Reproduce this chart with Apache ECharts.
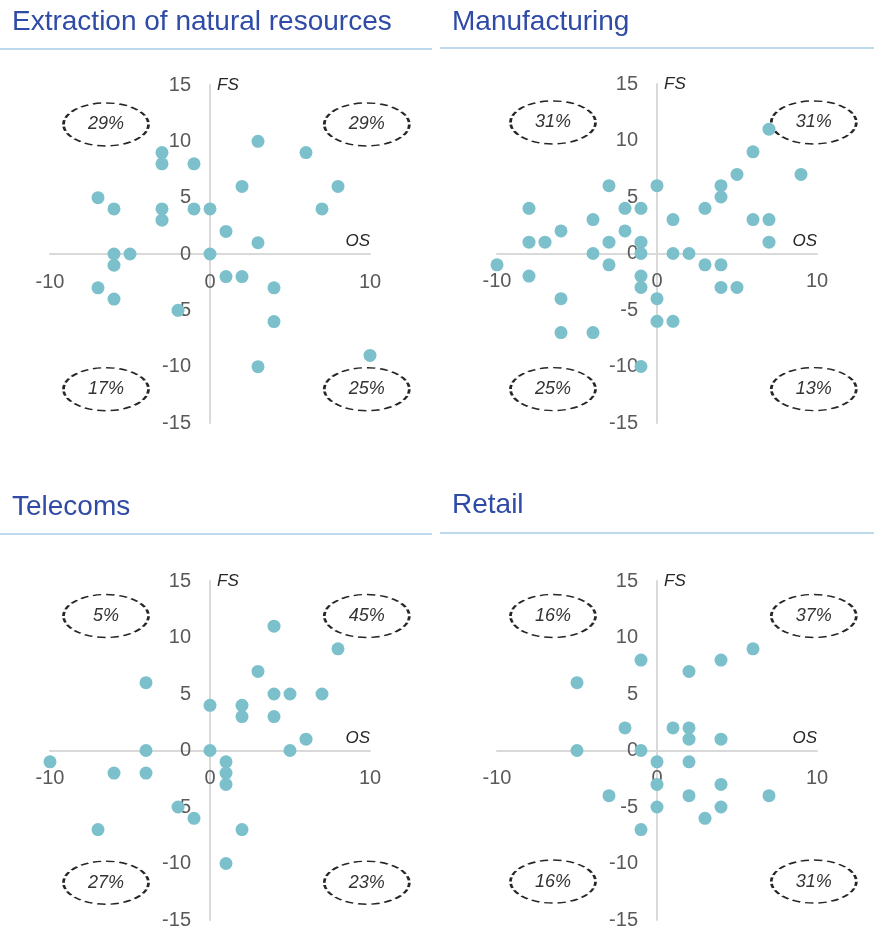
<!DOCTYPE html>
<html>
<head>
<meta charset="utf-8">
<script src="https://cdn.jsdelivr.net/npm/echarts@6/dist/echarts.min.js"></script>
<style>
  html, body { margin: 0; padding: 0; background: #fff; }
  #chart { width: 874px; height: 931px; }
</style>
</head>
<body>
<div id="chart"></div>
<script>
const titles = ['Extraction of natural resources', 'Manufacturing', 'Telecoms', 'Retail']

// axis scale (OS horizontal, FS vertical)
const xMin = -10
const xMax = 10
const xStep = 10
const yMin = -15
const yMax = 15
const yStep = 5

// dots, [OS, FS]
const extraction = [
  [-3, 9], [-3, 8], [-1, 8], [3, 10], [6, 9], [2, 6], [8, 6], [-7, 5], [-6, 4], [-3, 4],
  [-3, 3], [-1, 4], [0, 4], [7, 4], [1, 2], [3, 1], [-6, 0], [-5, 0], [0, 0], [-6, -1],
  [1, -2], [2, -2], [-7, -3], [4, -3], [-6, -4], [-2, -5], [4, -6], [3, -10], [10, -9]
]
const manufacturing = [
  [7, 11], [6, 9], [5, 7], [9, 7], [4, 6], [4, 5], [3, 4], [6, 3], [7, 3], [7, 1],
  [-3, 6], [0, 6], [-8, 4], [-2, 4], [-1, 4], [-4, 3], [1, 3], [-6, 2], [-2, 2], [-8, 1],
  [-7, 1], [-3, 1], [-1, 1], [-4, 0], [-1, 0], [1, 0], [2, 0], [-10, -1], [-3, -1], [3, -1],
  [4, -1], [-8, -2], [-1, -2], [-1, -3], [4, -3], [5, -3], [-6, -4], [0, -4], [0, -6], [1, -6],
  [-6, -7], [-4, -7], [-1, -10]
]
const telecoms = [
  [4, 11], [8, 9], [3, 7], [-4, 6], [4, 5], [5, 5], [7, 5], [0, 4], [2, 4], [2, 3],
  [4, 3], [6, 1], [-4, 0], [0, 0], [5, 0], [-10, -1], [1, -1], [-6, -2], [-4, -2], [1, -2],
  [1, -3], [-2, -5], [-1, -6], [-7, -7], [2, -7], [1, -10]
]
const retail = [
  [6, 9], [4, 8], [-1, 8], [2, 7], [-5, 6], [-2, 2], [1, 2], [2, 2], [2, 1], [4, 1],
  [-5, 0], [-1, 0], [0, -1], [2, -1], [0, -3], [4, -3], [-3, -4], [2, -4], [7, -4], [0, -5],
  [4, -5], [3, -6], [-1, -7]
]

// quadrant shares in %: top-left, top-right, bottom-left, bottom-right
const extractionShares = [29, 29, 17, 25]
const manufacturingShares = [31, 31, 25, 13]
const telecomsShares = [5, 45, 27, 23]
const retailShares = [16, 37, 16, 31]

const points = [extraction, manufacturing, telecoms, retail]
const shares = [extractionShares, manufacturingShares, telecomsShares, retailShares]

// layout
const grids = [
  { left: 50, top: 85, width: 320, height: 338 },
  { left: 497, top: 84, width: 320, height: 339 },
  { left: 50, top: 581, width: 320, height: 339 },
  { left: 497, top: 581, width: 320, height: 339 }
]
const titlePos = [[12, 8], [452, 8], [12, 493], [452, 491]]
const rulePos = [[0, 48, 432], [440, 47, 434], [0, 533, 432], [440, 532, 434]]
const ovalX = [-6.5, 9.8]
const ovalTop = [11.5, 11.6, 11.9, 11.9]
const ovalBottom = [-12, -12, -11.7, -11.6]

const font = "'Liberation Sans', Arial, sans-serif"
const ellipse = 'path://M0,50C0,22.4,22.4,0,50,0C77.6,0,100,22.4,100,50C100,77.6,77.6,100,50,100C22.4,100,0,77.6,0,50Z'

const chart = echarts.init(document.getElementById('chart'), null, { renderer: 'canvas' })

// axes cross at zero, so shift them into the middle of each grid
const xAxis = grids.map((g, i) => ({
  type: 'value',
  gridIndex: i,
  min: xMin,
  max: xMax,
  interval: xStep,
  offset: -g.height * (0 - yMin) / (yMax - yMin),
  name: 'OS',
  nameLocation: 'end',
  nameGap: 0,
  nameTextStyle: {
    align: 'right', verticalAlign: 'bottom', padding: [0, 0, 4, 0],
    fontStyle: 'italic', fontSize: 17, color: '#262626', fontFamily: font
  },
  axisLine: { onZero: false, lineStyle: { color: '#d9d9d9', width: 2 } },
  axisTick: { show: false },
  splitLine: { show: false },
  axisLabel: { margin: 18, fontSize: 20, color: '#595959', fontFamily: font }
}))

const yAxis = grids.map((g, i) => ({
  type: 'value',
  gridIndex: i,
  min: yMin,
  max: yMax,
  interval: yStep,
  offset: -g.width * (0 - xMin) / (xMax - xMin),
  name: 'FS',
  nameLocation: 'end',
  nameGap: 0,
  nameTextStyle: {
    align: 'left', verticalAlign: 'middle', padding: [0, 0, 0, 7],
    fontStyle: 'italic', fontSize: 17, color: '#262626', fontFamily: font
  },
  axisLine: { onZero: false, lineStyle: { color: '#d9d9d9', width: 2 } },
  axisTick: { show: false },
  splitLine: { show: false },
  axisLabel: { margin: 19, fontSize: 20, color: '#595959', fontFamily: font }
}))

const series = []
points.forEach((pts, i) => {
  const s = shares[i]
  series.push({
    type: 'scatter',
    xAxisIndex: i,
    yAxisIndex: i,
    silent: true,
    clip: false,
    z: 1,
    symbol: ellipse,
    symbolSize: [85, 43],
    itemStyle: { color: 'transparent', borderColor: '#262626', borderWidth: 2, borderType: [6, 3.5], opacity: 1 },
    label: {
      show: true, position: 'inside', formatter: p => p.value[2] + '%',
      fontStyle: 'italic', fontSize: 18, color: '#333', fontFamily: font
    },
    data: [
      [ovalX[0], ovalTop[i], s[0]],
      [ovalX[1], ovalTop[i], s[1]],
      [ovalX[0], ovalBottom[i], s[2]],
      [ovalX[1], ovalBottom[i], s[3]]
    ]
  })
  series.push({
    type: 'scatter',
    xAxisIndex: i,
    yAxisIndex: i,
    silent: true,
    clip: false,
    z: 2,
    symbolSize: 13,
    itemStyle: { color: '#7bc0cb', opacity: 1 },
    data: pts
  })
})

chart.setOption({
  animation: false,
  backgroundColor: '#fff',
  title: titles.map((t, i) => ({
    text: t,
    left: titlePos[i][0],
    top: titlePos[i][1],
    padding: 0,
    textStyle: { fontSize: 28, fontWeight: 'normal', color: '#2f4ba6', fontFamily: font }
  })),
  grid: grids,
  xAxis: xAxis,
  yAxis: yAxis,
  graphic: rulePos.map(r => ({
    type: 'rect',
    silent: true,
    shape: { x: r[0], y: r[1], width: r[2], height: 2 },
    style: { fill: '#bdd9ee' }
  })),
  series: series
})
</script>
</body>
</html>
